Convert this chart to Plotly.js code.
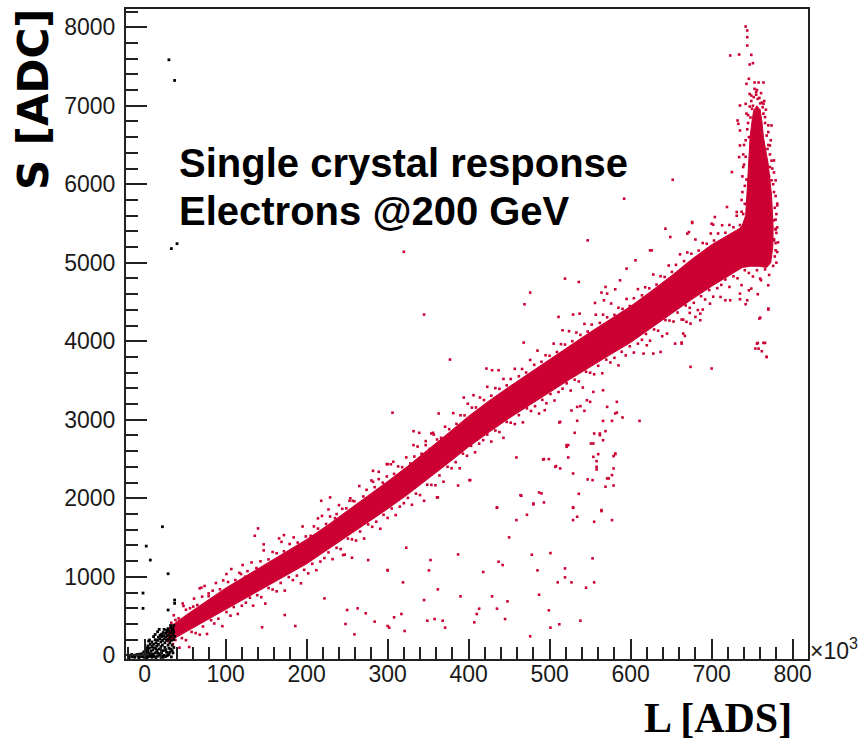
<!DOCTYPE html>
<html>
<head>
<meta charset="utf-8">
<script src="https://cdn.plot.ly/plotly-3.0.1.min.js"></script>
<style>
  html, body { margin: 0; padding: 0; background: #fff; }
  #plot { width: 863px; height: 743px; }
</style>
</head>
<body>
<div id="plot"></div>
<script>
// L in units of 10^3 ADS, S in ADC.

// Outline of the densely populated core of the electron band
// (upper edge left to right, around the saturation stem, lower edge back).
const coreL = [28, 40, 60, 80, 100, 125, 150, 175, 200, 225, 250, 275, 300, 325, 350, 375, 400, 425, 450, 475, 500, 525, 550, 575, 600, 625, 650, 675, 700, 720, 735,
  738, 742, 743.5, 745.5, 747.5, 750, 752, 756, 760, 762, 764, 770, 774, 776, 775.5, 773, 768, 758, 748, 738,
  720, 700, 675, 650, 625, 600, 575, 550, 525, 500, 475, 450, 425, 400, 375, 350, 325, 300, 275, 250, 225, 200, 175, 150, 125, 100, 80, 60, 40, 28];
const coreS = [335, 430, 575, 715, 855, 1010, 1165, 1320, 1475, 1650, 1835, 2030, 2215, 2410, 2615, 2830, 3045, 3240, 3420, 3595, 3770, 3945, 4115, 4280, 4445, 4635, 4830, 5040, 5230, 5350, 5440,
  5480, 5600, 5850, 6250, 6600, 6810, 6940, 7000, 6940, 6810, 6600, 6250, 5850, 5450, 5200, 5000, 4940, 4955, 4955, 4940,
  4830, 4700, 4530, 4350, 4165, 3985, 3830, 3675, 3515, 3350, 3185, 3020, 2840, 2655, 2450, 2245, 2050, 1865, 1690, 1505, 1330, 1165, 1020, 875, 730, 585, 465, 345, 230, 165];

// Events on the upper side of the core
const upperEdge = [
  [33,415],[36,510],[42,470],[47,660],[51,580],[56,600],[61,722],[65,640],[71,747],[74,883],[79,753],[84,823],
  [88,921],[93,841],[97,954],[103,934],[107,1099],[112,958],[117,1051],[121,1150],[127,1072],[132,1183],[138,1112],
  [143,1197],[147,1336],[153,1222],[158,1316],[163,1300],[169,1445],[172,1325],[179,1418],[184,1502],[189,1436],
  [195,1641],[199,1514],[205,1522],[209,1642],[214,1614],[219,1776],[224,1673],[229,1768],[235,1747],[240,1913],
  [244,1866],[249,1872],[254,2000],[259,1962],[265,2156],[270,2023],[274,2108],[280,2227],[284,2142],[289,2244],
  [294,2199],[299,2278],[304,2433],[308,2311],[313,2406],[318,2396],[323,2521],[328,2443],[333,2532],[337,2659],
  [342,2568],[347,2677],[352,2629],[357,2811],[361,2749],[366,2770],[371,2912],[376,2880],[381,3084],[385,2948],
  [390,3057],[395,3056],[399,3205],[404,3155],[409,3157],[414,3284],[419,3251],[423,3420],[428,3307],[433,3403],
  [438,3394],[443,3520],[447,3438],[452,3519],[457,3649],[462,3554],[466,3647],[471,3602],[476,3762],[481,3700],
  [485,3881],[490,3739],[495,3822],[500,3815],[505,3970],[509,3863],[514,3963],[519,3958],[524,4128],[528,4001],
  [533,4111],[538,4081],[543,4221],[547,4124],[552,4212],[557,4338],[562,4234],[566,4339],[571,4305],[576,4481],
  [580,4336],[585,4427],[590,4413],[595,4539],[599,4449],[604,4548],[609,4664],[614,4585],[618,4688],[623,4674],
  [628,4850],[632,4722],[637,4828],[642,4819],[647,4965],[651,4884],[656,4973],[661,5107],[666,5021],[670,5131],
  [675,5115],[680,5296],[684,5155],[689,5251],[694,5242],[699,5373],[703,5283],[708,5373],[713,5478],[717,5382],
  [722,5481],[727,5452],[731,5599],[735,5480]
];

// Events around the saturation stem
const stemEdge = [
  [739,5620],[737,5800],[741,5980],[738,6100],[742,6350],[740,6500],[744,6700],[743,6900],[747,6990],[749,7060],
  [752,7110],[755,7140],[759,7100],[762,7040],[764,6900],[766,6780],[768,6620],[770,6500],[772,6380],[775,6200],
  [774,6050],[777,5900],[778,5700],[779,5550],[780,5380],[779,5250],[778,5080],[776,4960],[744,5550],[741,5750],
  [746,6600],[748,6850],[763,6980],[769,6450],[776,6000],[777,5300],
  [740,5400],[738,5900],[740,6250],[742,6560],[745,6780],[747,7150],[751,7000],[756,7200],[761,7160],[765,7060],
  [767,6950],[770,6750],[773,6560],[774,6300],[777,6150],[779,5850],[780,5620],[781,5450],[782,5260],[780,5000],
  [737,5650],[739,6380],[743,6060],[745,6880],[760,7030],[771,6100]
];

// Events on the lower side of the core
const lowerEdge = [
  [35,143],[38,194],[43,97],[46,219],[51,193],[55,106],[58,298],[63,283],[68,263],[72,367],[77,272],[82,447],
  [86,405],[91,466],[96,371],[101,551],[106,505],[110,615],[115,527],[120,631],[125,670],[130,734],[134,632],
  [139,766],[144,740],[149,659],[153,856],[158,838],[163,815],[168,922],[173,824],[178,996],[183,958],[188,1015],
  [193,917],[197,1089],[202,1044],[207,1166],[212,1084],[217,1194],[222,1239],[227,1311],[232,1225],[237,1369],
  [242,1353],[247,1282],[251,1487],[256,1477],[261,1462],[266,1577],[271,1487],[276,1667],[281,1637],[286,1702],
  [291,1612],[295,1790],[300,1750],[305,1870],[310,1786],[315,1894],[320,1937],[325,2005],[330,1917],[335,2059],
  [340,2041],[345,1968],[349,2173],[354,2171],[359,2166],[364,2291],[369,2211],[374,2401],[379,2383],[384,2460],
  [389,2382],[393,2569],[398,2541],[403,2668],[408,2586],[413,2696],[418,2741],[423,2811],[428,2722],[433,2863],
  [438,2844],[443,2770],[447,2973],[452,2963],[457,2946],[462,3059],[467,2967],[472,3145],[477,3112],[482,3173],
  [487,3079],[491,3254],[496,3210],[501,3329],[506,3245],[511,3353],[516,3396],[521,3464],[526,3372],[531,3510],
  [536,3488],[541,3411],[545,3612],[550,3600],[555,3579],[560,3688],[565,3592],[570,3766],[575,3730],[580,3789],
  [585,3693],[589,3866],[594,3820],[599,3936],[604,3856],[609,3970],[614,4019],[619,4093],[624,4007],[629,4151],
  [634,4135],[639,4064],[643,4270],[648,4264],[653,4251],[658,4366],[663,4276],[668,4456],[673,4426],[678,4490],
  [683,4398],[687,4574],[692,4532],[697,4652],[702,4568],[707,4676],[712,4718],[717,4786],[722,4692],[727,4827],
  [732,4802],[737,4715],[741,4905],[746,4870],[751,4825],[756,4905],[761,4777],[766,4915],[771,4845]
];

// Isolated events away from the band
const strayEvents = [
  [306,3090],[332,2855],[339,2834],[347,2728],[356,2834],[362,2011],[387,2163],[401,2231],[459,2520],[493,2499],
  [499,2499],[508,2410],[523,2520],[521,2656],[523,2677],[512,2965],[531,2834],[534,2987],[547,2240],[553,2231],
  [551,2698],[555,2825],[558,2473],[558,2367],[560,2562],[562,2804],[566,2740],[569,2855],[573,2253],[577,2295],
  [579,2537],[581,2562],[579,2163],[569,2147],[577,2986],[566,2986],[590,3029],[583,3092],[611,2986],[583,3228],
  [550,3228],[538,3173],[543,3114],[527,3118],[465,2032],[480,1922],[487,2074],[493,1947],[472,1790],[459,1722],
  [435,1879],[450,1502],[529,1879],[534,1765],[529,1722],[536,2057],[564,1837],[555,1701],[577,1722],[323,1370],
  [300,1082],[319,929],[353,1213],[351,1082],[362,840],[345,704],[387,1285],[390,751],[418,1061],[437,1192],
  [442,1150],[429,751],[435,594],[448,687],[413,594],[410,526],[407,420],[445,462],[308,484],[317,526],
  [302,352],[321,310],[349,441],[358,462],[368,441],[371,352],[478,1281],[485,1082],[501,1302],[487,772],
  [499,573],[501,352],[512,395],[476,242],[519,1107],[519,993],[510,929],[527,929],[545,861],[555,929],
  [553,1235],[538,441],
  [345,4340],[377,3767],[476,4620],[469,4471],[519,4798],[536,4755],[569,4692],[564,4620],[581,4662],[529,4340],
  [511,4310],[556,4488],[537,4352],[516,4140],[468,3983],[422,3652],[437,3631],[429,3631],[406,3313],[394,3283],
  [363,3080],[354,2825],[299,2435],[282,2350],[307,2465],[332,2677],[320,5140],
  [435,1884],[361,2011],[402,2231],[464,2040],[490,2062],[480,1934],[529,1884],[564,1850],[529,2316],[513,2380],
  [492,2494],[507,2401],[521,2677],[554,2528],[558,2401],[571,2253],[562,2825],[554,2698],[581,2571],[579,2380],
  [534,3164],[546,3249],[554,3355],[566,3376],[571,3164],[581,3080],[513,2973],[494,3122],
  [652,6057],[592,5816],[547,5285],[742,8009],[744,7958],[744,7873],[744,7767],[723,7640],[734,7652],[749,7648],
  [751,7542],[747,7525],[746,7343],[753,7296],[758,7296],[764,7296],[743,7279],[753,7215],[755,7173],[749,7130],
  [757,7088],[742,7024],[764,7024],[735,7003],[750,6961],[759,6940],[766,6855],[732,6812],[733,6770],[774,6749],
  [735,6685],[770,6664],[772,6494],[735,6494],[734,6346],[725,6155],[739,6219],[777,6303],[772,6219],[779,6049],
  [781,5731],[777,5540],[779,5434],[777,5285],[779,5158],[768,5137],[746,4649],[770,4416],[760,4301],[756,3970],
  [758,3906],[764,3979],[768,3800],[744,4522],[735,4607],[719,5710],[731,5646],[704,5582],[700,5497],[676,5519],
  [672,5391],[649,5328],[643,5434],[626,5158],[624,5158],[606,5031],[595,4925],[587,4776],[571,4607],[567,4522],
  [665,4098],[655,3970],[663,3970],[645,4098],[637,3864],[628,3843],[686,4352],[698,4479],[711,4564],[717,4522],
  [674,4225],[620,3949],[616,3843],
  [770,4404],[759,4289],[757,3979],[766,3979],[754,3907],[762,3873],[768,3801],[674,3674],[700,3653],[667,4068],
  [663,3984],[686,4268],[680,4310],[673,4361],[665,4276],[669,4247],[689,4404],[723,4522],[742,4472],[735,4535],
  [749,4671],[757,4599],[770,4713],[760,4798],[781,5137],[779,5422],[781,5753],[676,5507],[670,5371],[702,5485],
  [140,1616],[136,1523],[147,1413],[172,1531],[166,1489],[101,1035],[119,1035],[124,1001],[70,861],[79,789],
  [48,628],[60,620],[38,450],[145,357],[186,373],[173,513],[222,725],[250,577],[263,598],[273,535],
  [248,399],[259,267],[284,429],[300,1086],[300,373],[245,1277],[256,1243],[276,1213],[218,1968],[229,2011],
  [253,1968],[257,1968],[289,2338],[300,2435],[282,2210],[214,1744],[227,1858],[237,1799],[68,853]
];

// Pedestal-like events near the origin and a few isolated ones
const blackEvents = [
  [-20,-10],[-17,0],[-14,-5],[-11,5],[-8,-10],[-5,0],[-3,20],[-1,-8],[1,10],[2,40],[3,-5],[4,60],[5,25],[6,90],
  [7,0],[8,50],[9,110],[10,70],[10,15],[11,140],[12,95],[13,30],[14,160],[15,120],[15,60],[16,190],[17,140],
  [18,80],[18,20],[19,210],[20,170],[20,110],[21,240],[22,190],[22,130],[23,60],[24,250],[24,210],[25,160],
  [25,100],[26,280],[26,230],[27,190],[27,40],[28,300],[28,250],[29,200],[29,130],[30,310],[30,260],[31,220],
  [31,160],[32,290],[32,80],[33,240],[33,190],[34,320],[34,130],[35,270],[35,30],[12,-15],[20,-20],[28,-5],
  [5,180],[18,330],[11,238],[6,195],[-15,-20],[-6,15],[0,-25],[16,-10],[24,0],[31,40],[33,350],
  [-19,-30],[-12,-25],[-7,-30],[-2,-20],[3,-30],[9,-25],[14,-30],[19,5],[23,-25],[26,-15],[30,10],[33,-20],
  [36,100],[36,200],[35,340],[32,380],[29,340],[27,320],[23,290],[21,270],[19,255],[17,230],[13,200],[9,170],
  [7,140],[4,120],[1,70],[-1,45],[3,90],[8,10],[14,85],[21,35],[26,70],[30,90],[34,60],[29,20],[22,-10],
  [16,30],[11,-5],[6,-15],[-4,-15],[-9,10],[-16,10],[13,265],[16,300],[24,330],[36,380],[36,300],[37,240],
  [22,1638],[2,1391],[7,1213],[29,1039],[-2,793],[-2,598],[37,704],[37,662],[29,577],
  [30,7585],[37,7322],[40,5243],[33,5180]
];

const bandRed = '#CC0033';
const frameColor = '#222222';

const redPts = upperEdge.concat(stemEdge, lowerEdge, strayEvents);

const traces = [
  {
    type: 'scatter', mode: 'lines', x: coreL, y: coreS, fill: 'toself',
    fillcolor: bandRed, line: {color: bandRed, width: 1}, hoverinfo: 'skip', showlegend: false
  },
  {
    type: 'scatter', mode: 'markers', x: redPts.map(p => p[0]), y: redPts.map(p => p[1]),
    marker: {color: bandRed, size: 2.6, symbol: 'square'}, hoverinfo: 'skip', showlegend: false
  },
  {
    type: 'scatter', mode: 'markers', x: blackEvents.map(p => p[0]), y: blackEvents.map(p => p[1]),
    marker: {color: '#000000', size: 2.8, symbol: 'square'}, hoverinfo: 'skip', showlegend: false
  }
];

const W = 863, H = 743, ML = 126, MR = 55, MT = 9, MB = 84;
const PW = W - ML - MR, PH = H - MT - MB;
const px = v => (v - ML) / PW;        // page x -> paper x
const py = v => (H - MB - v) / PH;    // page y -> paper y

const tickFont = {family: 'Liberation Sans, Arial, sans-serif', size: 23, color: '#1a1a1a'};

const layout = {
  width: W, height: H,
  margin: {l: ML, r: MR, t: MT, b: MB, pad: 0},
  paper_bgcolor: '#ffffff', plot_bgcolor: '#ffffff',
  showlegend: false, hovermode: false,
  xaxis: {
    range: [-23, 819], showgrid: false, zeroline: false,
    showline: true, mirror: true, linecolor: frameColor, linewidth: 2,
    ticks: 'inside', tick0: 0, dtick: 100, ticklen: 20, tickwidth: 2, tickcolor: frameColor,
    minor: {ticks: 'inside', dtick: 20, ticklen: 12, tickwidth: 2, tickcolor: frameColor},
    tickfont: tickFont, ticklabelstandoff: -7
  },
  yaxis: {
    range: [-47, 8232], showgrid: false, zeroline: false,
    showline: true, mirror: true, linecolor: frameColor, linewidth: 2,
    ticks: 'inside', tick0: 0, dtick: 1000, ticklen: 21, tickwidth: 2, tickcolor: frameColor,
    minor: {ticks: 'inside', dtick: 200, ticklen: 12, tickwidth: 2, tickcolor: frameColor},
    tickfont: tickFont, ticklabelstandoff: 4
  },
  annotations: [
    {
      text: 'Single crystal response', xref: 'paper', yref: 'paper',
      x: px(177), y: py(163), xanchor: 'left', yanchor: 'middle', showarrow: false,
      font: {family: 'Liberation Sans, Arial, sans-serif', size: 40, color: '#000', weight: 'bold'}
    },
    {
      text: 'Electrons @200 GeV', xref: 'paper', yref: 'paper',
      x: px(177), y: py(211), xanchor: 'left', yanchor: 'middle', showarrow: false,
      font: {family: 'Liberation Sans, Arial, sans-serif', size: 40, color: '#000', weight: 'bold'}
    },
    {
      text: 'S [ADC]', xref: 'paper', yref: 'paper', textangle: -90,
      x: px(33), y: py(100), xanchor: 'center', yanchor: 'middle', showarrow: false,
      font: {family: 'DejaVu Sans, sans-serif', size: 42, color: '#000', weight: 'bold'}
    },
    {
      text: 'L [ADS]', xref: 'paper', yref: 'paper',
      x: px(718), y: py(743), xanchor: 'center', yanchor: 'bottom', showarrow: false,
      font: {family: 'Liberation Serif, Times New Roman, serif', size: 42, color: '#000', weight: 'bold'}
    },
    {
      text: '×10<sup>3</sup>', xref: 'paper', yref: 'paper',
      x: px(808), y: py(649), xanchor: 'left', yanchor: 'middle', showarrow: false,
      font: {family: 'Liberation Sans, Arial, sans-serif', size: 23, color: '#1a1a1a'}
    }
  ]
};

Plotly.newPlot('plot', traces, layout, {staticPlot: true, displayModeBar: false});
</script>
</body>
</html>
